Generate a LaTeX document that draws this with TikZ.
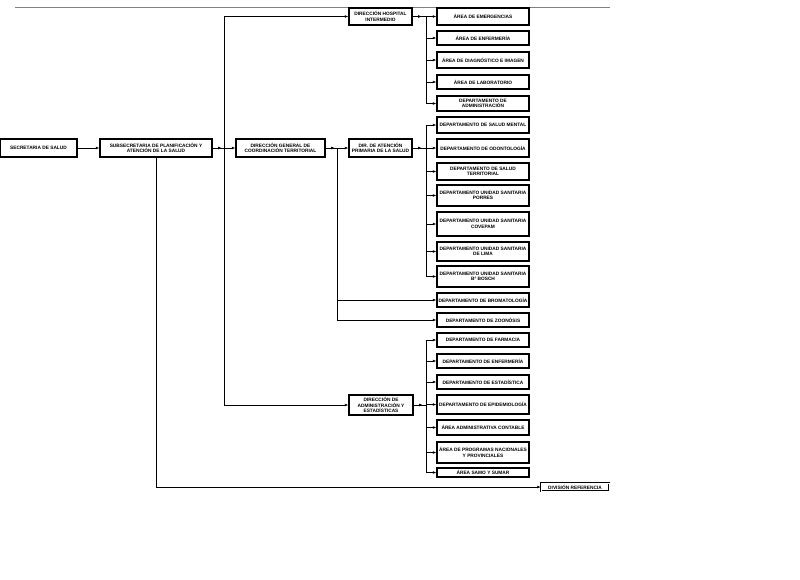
\documentclass[tikz,border=0pt]{standalone}
\usepackage{fontspec}
\setmainfont{Liberation Sans}
\usepackage{tikz}
\usetikzlibrary{positioning,arrows.meta,calc}

\begin{document}
\begin{tikzpicture}[
  x=1pt,y=-1pt,>={Latex[length=3.5pt,width=2.8pt]},
  font=\fontsize{4.8}{5.5}\selectfont\bfseries,
  box/.style={draw,line width=1.4pt,inner sep=0pt,align=center,
              minimum width=#1},
  box/.default=92,
  unit/.style={box=92,minimum height=#1},
  arr/.style={->,line width=0.6pt},
  ln/.style={line width=0.6pt},
]
  \useasboundingbox (0,0) rectangle (800,579);
  \coordinate (rulel) at (15,7);
  \coordinate (ruler) at (610,7);
  \draw[gray,line width=0.8pt] (rulel) -- (ruler);

  % main chain
  \node[box=77,minimum height=18] (sec) at (38.5,148) {SECRETARIA DE SALUD};
  \node[box=112,minimum height=18] (sub) at (156,148)
    {SUBSECRETARIA DE PLANIFICACIÓN Y\\ATENCIÓN DE LA SALUD};
  \node[box=89,minimum height=18] (dgct) at (280.5,148)
    {DIRECCIÓN GENERAL DE\\COORDINACIÓN TERRITORIAL};
  \node[box=63,minimum height=18] (dap) at (380.5,148)
    {DIR. DE ATENCIÓN\\PRIMARIA DE LA SALUD};
  \node[box=63,minimum height=17] (dhi) at (380.5,16.5)
    {DIRECCIÓN HOSPITAL\\INTERMEDIO};
  \node[box=64,minimum height=20] (dae) at (381,405)
    {DIRECCIÓN DE\\ADMINISTRACIÓN Y\\ESTADÍSTICAS};
  \node[box=68,minimum height=8,line width=0.5pt,double,double distance=0.9pt]
    (divref) at (575,487) {DIVISIÓN REFERENCIA};

  % hospital intermedio
  \node[unit=17] (emerg) at (483,16.5) {ÁREA DE EMERGENCIAS};
  \node[unit=14] (aenf)  at (483,38)   {ÁREA DE ENFERMERÍA};
  \node[unit=16] (diag)  at (483,60)   {ÁREA DE DIAGNÓSTICO E IMAGEN};
  \node[unit=14] (lab)   at (483,82)   {ÁREA DE LABORATORIO};
  \node[unit=15] (dadm)  at (483,103.5) {DEPARTAMENTO DE\\ADMINISTRACIÓN};

  % atencion primaria
  \node[unit=16] (smen)  at (483,125)  {DEPARTAMENTO DE SALUD MENTAL};
  \node[unit=18] (odon)  at (483,148)  {DEPARTAMENTO DE ODONTOLOGÍA};
  \node[unit=17] (ster)  at (483,171.5) {DEPARTAMENTO DE SALUD\\TERRITORIAL};
  \node[unit=21] (porr)  at (483,195.5) {DEPARTAMENTO UNIDAD SANITARIA\\PORRES};
  \node[unit=24] (cove)  at (483,224)  {DEPARTAMENTO UNIDAD SANITARIA\\COVEPAM};
  \node[unit=19] (lima)  at (483,251.5) {DEPARTAMENTO UNIDAD SANITARIA\\DE LIMA};
  \node[unit=21] (bosch) at (483,276.5) {DEPARTAMENTO UNIDAD SANITARIA\\Bº BOSCH};
  \node[unit=14] (brom)  at (483,300)  {DEPARTAMENTO DE BROMATOLOGÍA};
  \node[unit=14] (zoon)  at (483,320)  {DEPARTAMENTO DE ZOONÓSIS};

  % administracion
  \node[unit=14] (farm)  at (483,340)  {DEPARTAMENTO DE FARMACIA};
  \node[unit=14] (denf)  at (483,361)  {DEPARTAMENTO DE ENFERMERÍA};
  \node[unit=14] (esta)  at (483,382)  {DEPARTAMENTO DE ESTADÍSTICA};
  \node[unit=19] (epid)  at (483,404.5) {DEPARTAMENTO DE EPIDEMIOLOGÍA};
  \node[unit=15] (cont)  at (483,427.5) {ÁREA ADMINISTRATIVA CONTABLE};
  \node[unit=21] (prog)  at (483,452.5) {ÁREA DE PROGRAMAS NACIONALES\\Y PROVINCIALES};
  \node[unit=9]  (samo)  at (483,472.5) {ÁREA SAMO Y SUMAR};

  \coordinate (jsub) at (224,148);
  \coordinate (jdg)  at (337,148);
  \coordinate (jch)  at (426,148);

  \draw[arr] (sec.east) -- (sub.west);

  \draw[arr] (sub.east) -- ++(9,0);
  \draw[ln] (sub.east) -- (jsub);
  \draw[ln] (jsub |- dhi) -- (jsub |- dae);
  \draw[arr] (jsub) -- (dgct.west);
  \draw[arr] (jsub |- dhi) -- (dhi.west);
  \draw[arr] (jsub |- dae) -- (dae.west);
  \draw[arr] (sub.south) |- (divref.west);

  \draw[arr] (dgct.east) -- ++(9,0);
  \draw[ln] (dgct.east) -- (jdg);
  \draw[ln] (jdg) -- (jdg |- zoon);
  \draw[arr] (jdg) -- (dap.west);
  \draw[arr] (jdg |- brom) -- (brom.west);
  \draw[arr] (jdg |- zoon) -- (zoon.west);

  \draw[arr] (dhi.east) -- ++(9,0);
  \draw[ln] (dhi.east) -- (jch |- dhi);
  \draw[ln] (jch |- emerg) -- (jch |- dadm);
  \draw[arr] (jch |- emerg) -- (emerg.west);
  \draw[arr] (jch |- aenf) -- (aenf.west);
  \draw[arr] (jch |- diag) -- (diag.west);
  \draw[arr] (jch |- lab) -- (lab.west);
  \draw[arr] (jch |- dadm) -- (dadm.west);

  \draw[arr] (dap.east) -- ++(9,0);
  \draw[ln] (dap.east) -- (jch);
  \draw[ln] (jch |- smen) -- (jch |- bosch);
  \draw[arr] (jch |- smen) -- (smen.west);
  \draw[arr] (jch |- odon) -- (odon.west);
  \draw[arr] (jch |- ster) -- (ster.west);
  \draw[arr] (jch |- porr) -- (porr.west);
  \draw[arr] (jch |- cove) -- (cove.west);
  \draw[arr] (jch |- lima) -- (lima.west);
  \draw[arr] (jch |- bosch) -- (bosch.west);

  \draw[arr] (dae.east) -- ++(9,0);
  \draw[ln] (dae.east) -- (jch |- dae);
  \draw[ln] (jch |- farm) -- (jch |- samo);
  \draw[arr] (jch |- farm) -- (farm.west);
  \draw[arr] (jch |- denf) -- (denf.west);
  \draw[arr] (jch |- esta) -- (esta.west);
  \draw[arr] (jch |- epid) -- (epid.west);
  \draw[arr] (jch |- cont) -- (cont.west);
  \draw[arr] (jch |- prog) -- (prog.west);
  \draw[arr] (jch |- samo) -- (samo.west);
\end{tikzpicture}
\end{document}
